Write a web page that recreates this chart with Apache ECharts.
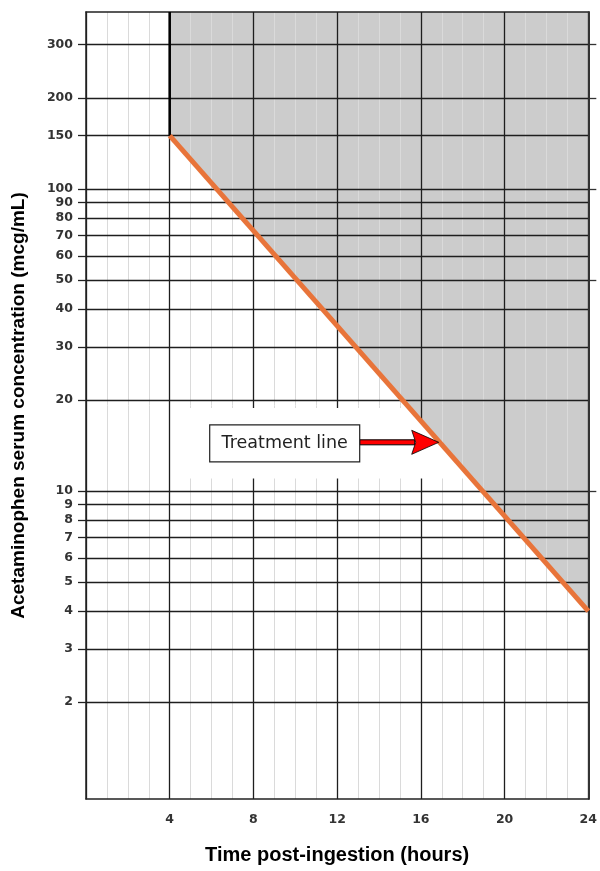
<!DOCTYPE html>
<html><head><meta charset="utf-8">
<script src="https://cdn.jsdelivr.net/npm/echarts@6/dist/echarts.min.js"></script>
<style>html,body{margin:0;padding:0;background:#fff}#c{width:600px;height:871px}</style>
</head><body><div id="c"></div>
<script>
// ---- data ----
const hourLabels = [4, 8, 12, 16, 20, 24];
const concTicks = [2, 3, 4, 5, 6, 7, 8, 9, 10, 20, 30, 40, 50, 60, 70, 80, 90, 100, 150, 200, 300];
const rightTicks = [10, 50, 100, 200, 300];
const treatmentHours = [4, 24];
const treatmentConc = [150, 4];
const annotationText = 'Treatment line';
const annotationHour = 16.9;
const xRange = [0, 24];
const yRange = [0.955, 385];
const clearBandConc = [11, 18.8];

// ---- helpers ----
const lg = Math.log10;
const lgStart = lg(treatmentConc[0]), lgEnd = lg(treatmentConc[1]);
const hSpan = treatmentHours[1] - treatmentHours[0];
function lineAt(h) { return lgStart + (h - treatmentHours[0]) / hSpan * (lgEnd - lgStart); }
function hourAt(lc) { return treatmentHours[0] + (lc - lgStart) / (lgEnd - lgStart) * hSpan; }

const tickFont = { fontFamily: 'DejaVu Sans', fontSize: 12.5, fontWeight: 'bold', color: '#333' };
const titleFontX = { fontFamily: 'Liberation Sans', fontSize: 20, fontWeight: 'bold', color: '#000' };
const titleFontY = { fontFamily: 'Liberation Sans', fontSize: 19, fontWeight: 'bold', color: '#000' };

const chart = echarts.init(document.getElementById('c'), null, { renderer: 'canvas' });
chart.setOption({
  animation: false,
  grid: { left: 86, right: 8, top: 12, bottom: 72, containLabel: false },
  xAxis: [
    { type: 'value', position: 'top', min: xRange[0], max: xRange[1], interval: 1, z: 0,
      axisLine: { show: true, onZero: false, lineStyle: { color: '#222', width: 1.5 } },
      axisTick: { show: false }, axisLabel: { show: false },
      splitLine: { show: true, lineStyle: { color: '#dadada', width: 1 } } },
    { type: 'value', position: 'bottom', min: xRange[0], max: xRange[1], interval: 4, z: 1,
      name: 'Time post-ingestion (hours)', nameLocation: 'middle', nameGap: 46, nameTextStyle: titleFontX,
      axisLine: { show: true, onZero: false, lineStyle: { color: '#222', width: 1.5 } },
      axisTick: { show: false },
      axisLabel: Object.assign({ margin: 14, formatter: v => hourLabels.includes(v) ? String(v) : '' }, tickFont),
      splitLine: { show: true, lineStyle: { color: '#1e1e1e', width: 1.3 } } }
  ],
  yAxis: [
    { type: 'value', position: 'left', min: lg(yRange[0]), max: lg(yRange[1]), z: 1,
      name: 'Acetaminophen serum concentration (mcg/mL)', nameLocation: 'middle', nameGap: 58, nameTextStyle: titleFontY,
      axisLine: { show: true, onZero: false, lineStyle: { color: '#222', width: 1.5 } },
      axisTick: { show: true, inside: false, length: 8, customValues: concTicks.map(lg), lineStyle: { color: '#222', width: 1.3 } },
      axisLabel: Object.assign({ margin: 13, customValues: concTicks.map(lg), formatter: v => String(Math.round(Math.pow(10, v))) }, tickFont),
      splitLine: { show: true, lineStyle: { color: '#1e1e1e', width: 1.3 } } },
    { type: 'value', position: 'right', min: lg(yRange[0]), max: lg(yRange[1]), z: 1,
      axisLine: { show: true, onZero: false, lineStyle: { color: '#333', width: 2 } },
      axisTick: { show: true, inside: false, length: 8, customValues: rightTicks.map(lg), lineStyle: { color: '#333', width: 1.3 } },
      axisLabel: { show: false }, splitLine: { show: false } }
  ],
  series: [
    { // shaded region above the treatment line
      type: 'custom', xAxisIndex: 1, yAxisIndex: 0, z: -1, silent: true,
      data: [[treatmentHours[0], lgStart]],
      renderItem: (p, api) => {
        const top = lg(yRange[1]);
        const pts = [[treatmentHours[0], lgStart], [treatmentHours[0], top], [treatmentHours[1], top], [treatmentHours[1], lgEnd]].map(q => api.coord(q));
        return { type: 'polygon', shape: { points: pts }, style: { fill: '#cccccc' } };
      }
    },
    { // white band behind the annotation
      type: 'custom', xAxisIndex: 1, yAxisIndex: 0, z: 2, silent: true,
      data: [[treatmentHours[0], lg(clearBandConc[1])]],
      renderItem: (p, api) => {
        const t = lg(clearBandConc[1]), b = lg(clearBandConc[0]);
        const a = api.coord([treatmentHours[0], t]);
        const pts = [[a[0] + 1.5, a[1]], api.coord([hourAt(t), t]), api.coord([hourAt(b), b]), [a[0] + 1.5, api.coord([treatmentHours[0], b])[1]]];
        return { type: 'polygon', shape: { points: pts }, style: { fill: '#ffffff' } };
      }
    },
    { // black boundary at 4 h above the line
      type: 'line', xAxisIndex: 1, yAxisIndex: 0, z: 3, symbol: 'none', silent: true,
      data: [[treatmentHours[0], lgStart], [treatmentHours[0], lg(yRange[1])]],
      lineStyle: { color: '#000', width: 2.5 }
    },
    { // treatment line
      type: 'line', xAxisIndex: 1, yAxisIndex: 0, z: 4, symbol: 'none', silent: true,
      data: treatmentHours.map((h, i) => [h, lg(treatmentConc[i])]),
      lineStyle: { color: '#E8743A', width: 5, cap: 'butt' }
    },
    { // annotation
      type: 'custom', xAxisIndex: 1, yAxisIndex: 0, z: 5, silent: true, clip: false,
      data: [[annotationHour, lineAt(annotationHour)]],
      renderItem: (p, api) => {
        const tip = api.coord([api.value(0), api.value(1)]);
        const tx = tip[0] - 1, ty = tip[1];
        const shaftLen = 79, headLen = 27, headH = 12, boxW = 150, boxH = 37;
        const bx = tx - shaftLen - boxW, by = ty - boxH / 2 + 1;
        return { type: 'group', children: [
          { type: 'rect', shape: { x: tx - shaftLen, y: ty - 2.5, width: shaftLen - headLen + 3, height: 5 },
            style: { fill: '#ff0000', stroke: '#000', lineWidth: 1 } },
          { type: 'polygon', shape: { points: [[tx, ty], [tx - headLen, ty - headH], [tx - headLen + 4, ty], [tx - headLen, ty + headH]] },
            style: { fill: '#ff0000', stroke: '#000', lineWidth: 0.8 } },
          { type: 'rect', shape: { x: bx, y: by, width: boxW, height: boxH },
            style: { fill: '#fff', stroke: '#222', lineWidth: 1.2 } },
          { type: 'text', style: { x: bx + boxW / 2, y: by + boxH / 2, text: annotationText, align: 'center', verticalAlign: 'middle',
            fontFamily: 'DejaVu Sans', fontSize: 17.5, fill: '#222' } }
        ]};
      }
    }
  ]
});
</script></body></html>
